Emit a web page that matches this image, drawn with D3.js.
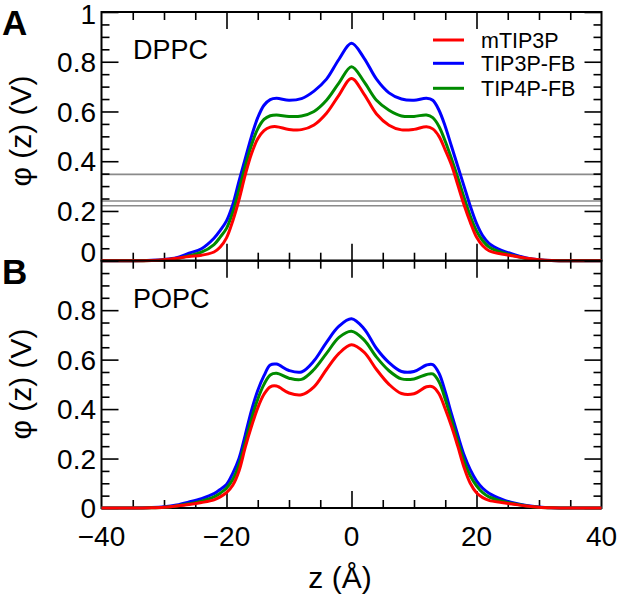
<!DOCTYPE html>
<html><head><meta charset="utf-8">
<script src="https://cdn.jsdelivr.net/npm/d3@7"></script>
<style>body{margin:0;background:#fff}svg{display:block}text{font-family:"Liberation Sans",Arial,Helvetica,sans-serif;fill:#000}</style>
</head><body><div id="c"></div>
<script>
const zGrid = [-40,-36,-32,-30,-28,-26,-24,-22,-21,-20,-19,-18,-17,-16,-15,-14,-13,-12,-10,-8,-6,-4,-2,0,2,4,6,8,10,12,13,14,15,16,17,18,19,20,21,22,24,26,28,30,32,36,40];
const seriesNames = ["mTIP3P","TIP3P-FB","TIP4P-FB"];
const seriesColors = ["#ff0000","#0000ff","#008b00"];
// Panel A: DPPC
const dppc_mTIP3P = [0,0,0.001,0.004,0.01,0.017,0.022,0.035,0.055,0.092,0.16,0.245,0.345,0.43,0.49,0.523,0.537,0.539,0.528,0.527,0.546,0.593,0.666,0.733,0.67,0.59,0.545,0.526,0.528,0.539,0.53,0.5,0.445,0.385,0.305,0.225,0.155,0.095,0.06,0.04,0.027,0.019,0.01,0.004,0.001,0,0];
const dppc_TIP3PFB = [0,0,0.002,0.005,0.012,0.03,0.048,0.09,0.122,0.16,0.225,0.32,0.41,0.5,0.575,0.625,0.648,0.653,0.645,0.652,0.682,0.73,0.81,0.874,0.815,0.73,0.675,0.65,0.645,0.653,0.645,0.605,0.54,0.46,0.38,0.3,0.22,0.15,0.1,0.07,0.042,0.025,0.011,0.004,0.001,0,0];
const dppc_TIP4PFB = [0,0,0.001,0.003,0.008,0.02,0.034,0.065,0.095,0.13,0.195,0.285,0.38,0.465,0.53,0.568,0.583,0.586,0.58,0.582,0.6,0.645,0.715,0.78,0.72,0.645,0.605,0.582,0.58,0.586,0.575,0.54,0.48,0.41,0.335,0.255,0.18,0.12,0.08,0.055,0.033,0.02,0.008,0.003,0.001,0,0];
// Panel B: POPC
const popc_mTIP3P = [0,0,0.001,0.003,0.008,0.014,0.022,0.033,0.045,0.062,0.092,0.15,0.245,0.33,0.405,0.46,0.49,0.493,0.465,0.458,0.49,0.56,0.625,0.66,0.63,0.56,0.5,0.463,0.462,0.49,0.49,0.462,0.4,0.33,0.25,0.165,0.1,0.062,0.042,0.031,0.022,0.015,0.008,0.003,0.001,0,0];
const popc_TIP3PFB = [0,0,0.002,0.005,0.012,0.024,0.038,0.058,0.075,0.095,0.14,0.2,0.295,0.395,0.475,0.535,0.578,0.582,0.556,0.55,0.595,0.67,0.735,0.765,0.725,0.645,0.588,0.552,0.552,0.578,0.58,0.545,0.47,0.38,0.295,0.215,0.155,0.11,0.08,0.06,0.036,0.02,0.01,0.004,0.001,0,0];
const popc_TIP4PFB = [0,0,0.001,0.003,0.008,0.017,0.028,0.045,0.06,0.08,0.115,0.175,0.265,0.36,0.44,0.5,0.538,0.545,0.525,0.52,0.56,0.625,0.69,0.715,0.68,0.61,0.555,0.522,0.522,0.54,0.542,0.51,0.44,0.355,0.27,0.19,0.13,0.09,0.062,0.045,0.028,0.017,0.008,0.003,0.001,0,0];
const dppcRefLines = [0.347,0.24,0.221];
const xTickLabels = [-40,-20,0,20,40];
const yTickLabels = [0,0.2,0.4,0.6,0.8,1];

const W=618,H=597;
const svg=d3.select("#c").append("svg").attr("width",W).attr("height",H);
const x=d3.scaleLinear().domain([-40,40]).range([101.5,601.5]);
const panels=[
  {name:"DPPC",letter:"A",top:12,bottom:260.7,series:[dppc_mTIP3P,dppc_TIP3PFB,dppc_TIP4PFB],ref:dppcRefLines,legend:true,labelY:131},
  {name:"POPC",letter:"B",top:260.7,bottom:508,series:[popc_mTIP3P,popc_TIP3PFB,popc_TIP4PFB],ref:[],legend:false,labelY:384}
];
const fmt=d=>d===0?"0":(d===1?"1":d3.format(".1f")(d));
const minor5=d3.range(-40,40.1,5);
const minorY=d3.range(0,1.0001,0.05);
panels.forEach((p,pi)=>{
  const y=d3.scaleLinear().domain([0,1]).range([p.bottom,p.top]);
  const g=svg.append("g");
  g.selectAll(".ref").data(p.ref).join("line")
    .attr("x1",x(-40)).attr("x2",x(40)).attr("y1",d=>y(d)).attr("y2",d=>y(d))
    .attr("stroke","#8a8a8a").attr("stroke-width",1.6);
  const tickStyle=sel=>{sel.select(".domain").remove();sel.selectAll("line").attr("stroke","#000").attr("stroke-width",1.6);};
  const minVals=minorY.filter(v=>Math.round(v*100)%20!==0);
  const majVals=[0,0.2,0.4,0.6,0.8,1];
  g.append("g").attr("transform",`translate(${x(-40)},0)`).call(d3.axisRight(y).tickValues(minVals).tickSize(8).tickFormat("")).call(tickStyle);
  g.append("g").attr("transform",`translate(${x(-40)},0)`).call(d3.axisRight(y).tickValues(majVals).tickSize(17).tickFormat("")).call(tickStyle);
  g.append("g").attr("transform",`translate(${x(40)},0)`).call(d3.axisLeft(y).tickValues(minVals).tickSize(8).tickFormat("")).call(tickStyle);
  g.append("g").attr("transform",`translate(${x(40)},0)`).call(d3.axisLeft(y).tickValues(majVals).tickSize(17).tickFormat("")).call(tickStyle);
  const labs = pi===0 ? yTickLabels : yTickLabels.filter(v=>v<1);
  g.selectAll(".yl").data(labs).join("text")
    .attr("x",96).attr("y",d=>y(d)+(pi===0&&d===0?-9:(d===1?2:0))).attr("dy","0.36em")
    .attr("text-anchor","end").attr("font-size",28).text(fmt);
  const xMin=minor5.filter(v=>v%20!==0), xMaj=[-20,0,20];
  g.append("g").attr("transform",`translate(0,${p.top})`).call(d3.axisBottom(x).tickValues(xMin).tickSize(8).tickFormat("")).call(tickStyle);
  g.append("g").attr("transform",`translate(0,${p.top})`).call(d3.axisBottom(x).tickValues(xMaj).tickSize(17).tickFormat("")).call(tickStyle);
  g.append("g").attr("transform",`translate(0,${p.bottom})`).call(d3.axisTop(x).tickValues(xMin).tickSize(8).tickFormat("")).call(tickStyle);
  g.append("g").attr("transform",`translate(0,${p.bottom})`).call(d3.axisTop(x).tickValues(xMaj).tickSize(17).tickFormat("")).call(tickStyle);
  g.append("rect").attr("x",x(-40)).attr("y",p.top).attr("width",x(40)-x(-40)).attr("height",p.bottom-p.top)
    .attr("fill","none").attr("stroke","#000").attr("stroke-width",2);
  const line=d3.line().x((d,i)=>x(zGrid[i])).y(d=>y(d)).curve(d3.curveCatmullRom.alpha(0.5));
  [1,2,0].forEach(si=>{
    g.append("path").attr("d",line(p.series[si])).attr("fill","none")
     .attr("stroke",seriesColors[si]).attr("stroke-width",3).attr("stroke-linejoin","round");
  });
  g.append("text").attr("x",133).attr("y",p.top+47).attr("font-size",27).text(p.name);
  g.append("text").attr("x",2).attr("y",p.top+23).attr("font-size",35).attr("font-weight","bold").text(p.letter);
  g.append("text").attr("transform",`translate(31,${p.labelY}) rotate(-90)`)
    .attr("text-anchor","middle").attr("font-size",30).text("φ (z) (V)");
  if(p.legend){
    const ly=[40,63.3,88.3];
    seriesNames.forEach((n,i)=>{
      g.append("line").attr("x1",433).attr("x2",464).attr("y1",ly[i]).attr("y2",ly[i])
        .attr("stroke",seriesColors[i]).attr("stroke-width",3);
      g.append("text").attr("x",481).attr("y",ly[i]).attr("dy","0.36em").attr("font-size",21.5).text(n);
    });
  }
});
svg.selectAll(".xl").data(xTickLabels).join("text")
  .attr("x",d=>x(d)).attr("y",536).attr("dy","0.36em").attr("text-anchor","middle").attr("font-size",28)
  .text(d=>d<0?"\u2212"+Math.abs(d):d);
svg.append("text").attr("x",340).attr("y",577).attr("dy","0.36em").attr("text-anchor","middle").attr("font-size",30).text("z (Å)");
</script></body></html>
